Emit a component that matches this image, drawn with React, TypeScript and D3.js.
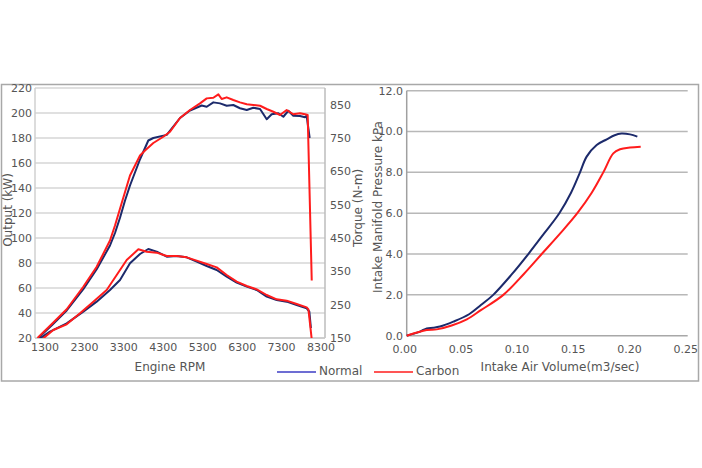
import { useEffect, useRef } from "react";
import * as d3 from "d3";

type Pt = [number, number];

// engine dyno: [rpm, kW]
const normalPower: Pt[] = [
  [1380, 20], [1700, 30], [2065, 42], [2466, 59], [2789, 75], [3110, 94], [3231, 104],
  [3350, 116], [3473, 130], [3593, 142], [3835, 163], [4035, 178], [4156, 180], [4480, 182.5],
  [4800, 196], [5041, 202], [5324, 206], [5445, 205], [5605, 208.5], [5766, 207.7],
  [5927, 205.8], [6087, 206.4], [6248, 203.8], [6411, 202.4], [6570, 204.2], [6732, 203.2],
  [6893, 195], [7013, 199], [7174, 199.8], [7294, 197], [7415, 201.8], [7535, 197.8],
  [7697, 197.6], [7817, 196.6], [7857, 197.8], [7930, 180],
];
const carbonPower: Pt[] = [
  [1360, 20], [1700, 31], [2065, 43], [2466, 61], [2789, 77], [3110, 98], [3231, 110],
  [3393, 128], [3593, 150], [3835, 166], [3956, 170], [4156, 176], [4397, 181], [4559, 185],
  [4800, 196], [5041, 202.4], [5283, 207.7], [5445, 211.7], [5605, 212.2], [5726, 214.9],
  [5806, 211.2], [5927, 212.5], [6087, 210.4], [6248, 208.5], [6411, 207], [6570, 206.4],
  [6732, 205.8], [6893, 203.2], [7053, 201], [7214, 198.4], [7375, 202.4], [7535, 199],
  [7697, 199.8], [7817, 199], [7882, 198.4], [7980, 66],
];

// [rpm, N-m]
const normalTorque: Pt[] = [
  [1421, 149], [1662, 169], [2065, 194], [2466, 229], [2789, 259], [3110, 294], [3352, 324],
  [3593, 374], [3835, 402], [4035, 417], [4237, 409], [4480, 394], [4720, 396], [4962, 392],
  [5203, 379], [5445, 366], [5686, 354], [5927, 334], [6168, 316], [6411, 304], [6652, 294],
  [6893, 274], [7134, 264], [7375, 259], [7617, 249], [7858, 239], [7922, 229], [7960, 180],
];
const carbonTorque: Pt[] = [
  [1500, 149], [1742, 174], [2065, 191], [2386, 224], [2708, 259], [3030, 294], [3272, 339],
  [3513, 384], [3795, 416], [3996, 409], [4237, 406], [4480, 396], [4720, 396], [4962, 392],
  [5203, 382], [5445, 372], [5686, 362], [5927, 339], [6168, 319], [6411, 306], [6652, 296],
  [6893, 279], [7134, 266], [7375, 262], [7617, 252], [7858, 242], [7900, 236], [7985, 140],
];

// [m3/sec, kPa]
const normalPressure: Pt[] = [
  [0, 0], [0.0118, 0.2], [0.0178, 0.36], [0.0237, 0.39], [0.0296, 0.45], [0.0415, 0.69],
  [0.0555, 1.05], [0.066, 1.5], [0.077, 2.0], [0.0934, 3.0], [0.1082, 4.0], [0.1221, 5.0],
  [0.1358, 6.0], [0.1462, 7.0], [0.1542, 8.0], [0.1601, 8.77], [0.169, 9.34], [0.178, 9.62],
  [0.185, 9.82], [0.191, 9.9], [0.1987, 9.86], [0.2052, 9.75],
];
const carbonPressure: Pt[] = [
  [0, 0], [0.0178, 0.28], [0.0267, 0.31], [0.04, 0.5], [0.0535, 0.8], [0.066, 1.25],
  [0.086, 2.0], [0.1038, 3.0], [0.1201, 4.0], [0.1364, 5.0], [0.1518, 6.0], [0.1646, 7.0],
  [0.1749, 8.0], [0.1838, 8.93], [0.1898, 9.13], [0.1987, 9.22], [0.2082, 9.26],
];

const rpmTicks = [1300, 2300, 3300, 4300, 5300, 6300, 7300, 8300];
const kwTicks = [20, 40, 60, 80, 100, 120, 140, 160, 180, 200, 220];
const nmTicks = [150, 250, 350, 450, 550, 650, 750, 850];
const flowTicks = [0, 0.05, 0.1, 0.15, 0.2, 0.25];
const kpaTicks = [0, 2, 4, 6, 8, 10, 12];

const NAVY = "#1c2a6b";
const RED = "#ff1c1c";
const TEXT = "#555";
const FONT = "DejaVu Sans, Verdana, sans-serif";

export default function App() {
  const ref = useRef<SVGSVGElement | null>(null);

  useEffect(() => {
    if (!ref.current) return;
    const svg = d3.select(ref.current);
    svg.selectAll("*").remove();

    svg.append("rect").attr("width", 702).attr("height", 468).attr("fill", "#fff");
    svg
      .append("rect")
      .attr("x", 1.5)
      .attr("y", 84.5)
      .attr("width", 697)
      .attr("height", 296.5)
      .attr("fill", "none")
      .attr("stroke", "#a8a8a8")
      .attr("stroke-width", 1.5);

    // ---------- left chart ----------
    const L = { left: 35, right: 325, top: 88, bottom: 338 };
    const x = d3.scaleLinear().domain([1300, 8300]).range([L.left, L.right]);
    const yKw = d3.scaleLinear().domain([20, 220]).range([L.bottom, L.top]);
    const yNm = d3.scaleLinear().domain([150, 900]).range([L.bottom, L.top]);
    const labelX = d3.scalePoint<number>().domain(rpmTicks).range([45, 321]);

    const left = svg.append("g");
    left
      .selectAll("line.grid")
      .data(kwTicks)
      .join("line")
      .attr("x1", L.left)
      .attr("x2", L.right)
      .attr("y1", (d) => yKw(d))
      .attr("y2", (d) => yKw(d))
      .attr("stroke", "#d6d6d6")
      .attr("stroke-width", 1.5);
    left
      .append("line")
      .attr("x1", L.left).attr("x2", L.left).attr("y1", L.top).attr("y2", L.bottom)
      .attr("stroke", "#d0d0d0").attr("stroke-width", 1.5);
    left
      .append("line")
      .attr("x1", L.right).attr("x2", L.right).attr("y1", L.top).attr("y2", L.bottom)
      .attr("stroke", "#bdbdbd").attr("stroke-width", 1.5);
    left
      .append("line")
      .attr("x1", L.left).attr("x2", L.right).attr("y1", L.bottom).attr("y2", L.bottom)
      .attr("stroke", "#c8c8c8").attr("stroke-width", 1.5);

    left
      .append("clipPath")
      .attr("id", "clipL")
      .append("rect")
      .attr("x", L.left)
      .attr("y", L.top - 5)
      .attr("width", L.right - L.left)
      .attr("height", L.bottom - L.top + 5);

    const kwLine = d3.line<Pt>().x((d) => x(d[0])).y((d) => yKw(d[1]));
    const nmLine = d3.line<Pt>().x((d) => x(d[0])).y((d) => yNm(d[1]));
    const lines = left.append("g").attr("clip-path", "url(#clipL)");
    const series: [Pt[], d3.Line<Pt>, string][] = [
      [normalTorque, nmLine, NAVY],
      [normalPower, kwLine, NAVY],
      [carbonTorque, nmLine, RED],
      [carbonPower, kwLine, RED],
    ];
    series.forEach(([data, gen, color]) => {
      lines
        .append("path")
        .datum(data)
        .attr("fill", "none")
        .attr("stroke", color)
        .attr("stroke-width", 2)
        .attr("stroke-linejoin", "round")
        .attr("d", gen);
    });

    const txt = (g: d3.Selection<SVGGElement, unknown, null, undefined>) =>
      g.attr("font-family", FONT).attr("fill", TEXT);

    const lt = left.append("g").call(txt).attr("font-size", 11);
    lt.selectAll("text.ky")
      .data(kwTicks)
      .join("text")
      .attr("x", 32)
      .attr("y", (d) => yKw(d))
      .attr("dy", "0.35em")
      .attr("text-anchor", "end")
      .text((d) => d);
    lt.selectAll("text.ny")
      .data(nmTicks)
      .join("text")
      .attr("x", 330)
      .attr("y", (d) => yNm(d))
      .attr("dy", "0.35em")
      .text((d) => d);
    lt.selectAll("text.rx")
      .data(rpmTicks)
      .join("text")
      .attr("x", (d) => labelX(d) as number)
      .attr("y", 347.5)
      .attr("dy", "0.35em")
      .attr("text-anchor", "middle")
      .text((d) => d);

    const titles = svg.append("g").call(txt).attr("font-size", 12);
    titles
      .append("text")
      .attr("x", 170)
      .attr("y", 367)
      .attr("dy", "0.35em")
      .attr("text-anchor", "middle")
      .text("Engine RPM");
    titles
      .append("text")
      .attr("transform", "translate(8,210) rotate(-90)")
      .attr("dy", "0.35em")
      .attr("text-anchor", "middle")
      .text("Output (kW)");
    titles
      .append("text")
      .attr("transform", "translate(358,208) rotate(-90)")
      .attr("dy", "0.35em")
      .attr("text-anchor", "middle")
      .text("Torque (N-m)");
    titles
      .append("text")
      .attr("transform", "translate(378,207) rotate(-90)")
      .attr("dy", "0.35em")
      .attr("text-anchor", "middle")
      .text("Intake Manifold Pressure kPa");
    titles
      .append("text")
      .attr("x", 560)
      .attr("y", 367)
      .attr("dy", "0.35em")
      .attr("text-anchor", "middle")
      .text("Intake Air Volume(m3/sec)");

    // ---------- right chart ----------
    const R = { left: 406.7, right: 687.7, top: 90.7, bottom: 335.7 };
    const xr = d3.scaleLinear().domain([0, 0.25]).range([R.left, R.right]);
    const yr = d3.scaleLinear().domain([0, 12]).range([R.bottom, R.top]);
    const right = svg.append("g");
    right
      .selectAll("line.grid")
      .data(kpaTicks.slice(1))
      .join("line")
      .attr("x1", R.left)
      .attr("x2", R.right)
      .attr("y1", (d) => yr(d))
      .attr("y2", (d) => yr(d))
      .attr("stroke", "#b8b8b8")
      .attr("stroke-width", 1.5);
    right
      .append("line")
      .attr("x1", R.left).attr("x2", R.left).attr("y1", R.top).attr("y2", R.bottom)
      .attr("stroke", "#a0a0a0").attr("stroke-width", 1.5);
    right
      .append("line")
      .attr("x1", R.left).attr("x2", R.right).attr("y1", R.bottom).attr("y2", R.bottom)
      .attr("stroke", "#a8a8a8").attr("stroke-width", 1.5);

    const pLine = d3
      .line<Pt>()
      .x((d) => xr(d[0]))
      .y((d) => yr(d[1]))
      .curve(d3.curveCatmullRom.alpha(0.5));
    [
      [normalPressure, NAVY],
      [carbonPressure, RED],
    ].forEach(([data, color]) => {
      right
        .append("path")
        .datum(data as Pt[])
        .attr("fill", "none")
        .attr("stroke", color as string)
        .attr("stroke-width", 2)
        .attr("d", pLine);
    });

    const rt = right.append("g").call(txt).attr("font-size", 11);
    rt.selectAll("text.ky")
      .data(kpaTicks)
      .join("text")
      .attr("x", 403)
      .attr("y", (d) => yr(d))
      .attr("dy", "0.35em")
      .attr("text-anchor", "end")
      .text((d) => d3.format(".1f")(d));
    rt.selectAll("text.fx")
      .data(flowTicks)
      .join("text")
      .attr("x", (d) => xr(d) - 2)
      .attr("y", 349.5)
      .attr("dy", "0.35em")
      .attr("text-anchor", "middle")
      .text((d) => d3.format(".2f")(d));

    // ---------- legend ----------
    const legend = svg.append("g").call(txt).attr("font-size", 12);
    const items: [string, string, number][] = [
      ["Normal", "#3c3cc4", 277],
      ["Carbon", RED, 374],
    ];
    items.forEach(([name, color, lx]) => {
      legend
        .append("line")
        .attr("x1", lx)
        .attr("x2", lx + 39)
        .attr("y1", 372)
        .attr("y2", 372)
        .attr("stroke", color)
        .attr("stroke-width", 1.5);
      legend
        .append("text")
        .attr("x", lx + 42)
        .attr("y", 371)
        .attr("dy", "0.35em")
        .text(name);
    });
  }, []);

  return (
    <svg
      ref={ref}
      width={702}
      height={468}
      style={{ position: "absolute", left: 0, top: 0 }}
    />
  );
}
